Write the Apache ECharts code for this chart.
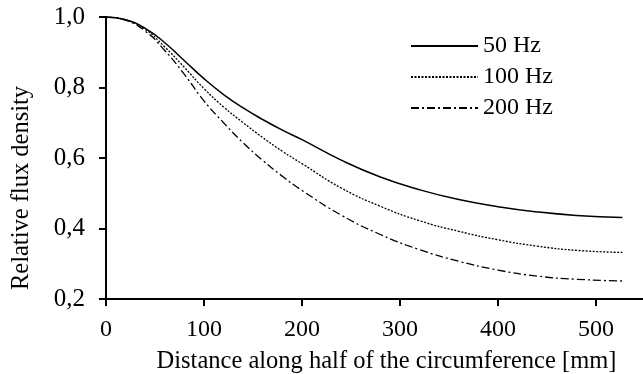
<!DOCTYPE html>
<html><head><meta charset="utf-8">
<script src="https://cdn.jsdelivr.net/npm/echarts@6/dist/echarts.min.js"></script>
<style>html,body{margin:0;padding:0;background:#fff}#c{width:643px;height:374px}</style>
</head><body><div id="c"></div>
<script>
const distance = [0, 20, 40, 60, 80, 100, 120, 140, 160, 180, 200, 240, 280, 320, 360, 400, 440, 480, 527];
const hz50  = [1.0, 0.992, 0.968, 0.927, 0.876, 0.825, 0.780, 0.742, 0.709, 0.679, 0.652, 0.594, 0.546, 0.510, 0.482, 0.462, 0.447, 0.437, 0.431];
const hz100 = [1.0, 0.992, 0.965, 0.915, 0.857, 0.797, 0.745, 0.700, 0.658, 0.619, 0.584, 0.515, 0.463, 0.422, 0.392, 0.368, 0.350, 0.338, 0.332];
const hz200 = [1.0, 0.991, 0.960, 0.905, 0.837, 0.762, 0.700, 0.643, 0.593, 0.548, 0.508, 0.438, 0.383, 0.340, 0.307, 0.282, 0.265, 0.256, 0.251];
const seriesNames = ['50 Hz', '100 Hz', '200 Hz'];
const yTicks = [0.2, 0.4, 0.6, 0.8, 1.0];

const font = '"Liberation Serif","Times New Roman",serif';
const pair = arr => distance.map((d, i) => [d, arr[i]]);
const dashes = ['solid', [2, 1.5], [8, 3, 2, 3]];
const data = [hz50, hz100, hz200];

const chart = echarts.init(document.getElementById('c'));
chart.setOption({
  animation: false,
  backgroundColor: '#fff',
  textStyle: { fontFamily: font, color: '#000' },
  grid: { left: 106, top: 17, right: 0, bottom: 75, containLabel: false, outerBoundsMode: 'none' },
  legend: {
    orient: 'vertical', left: 410, top: 34, padding: 0,
    itemWidth: 67, itemHeight: 10, itemGap: 7,
    itemStyle: { opacity: 0 },
    textStyle: { fontFamily: font, fontSize: 24, color: '#000' },
    data: seriesNames
  },
  xAxis: {
    type: 'value', min: 0, max: 548, interval: 100,
    name: 'Distance along half of the circumference [mm]',
    nameLocation: 'middle', nameGap: 50,
    nameTextStyle: { fontFamily: font, fontSize: 24.5, color: '#000', padding: [0, 0, 0, 24] },
    axisLine: { lineStyle: { color: '#000', width: 2 } },
    axisTick: { show: true, length: 7, lineStyle: { color: '#000', width: 2 } },
    axisLabel: { fontFamily: font, fontSize: 24, color: '#000', margin: 19, showMaxLabel: false },
    splitLine: { show: false }
  },
  yAxis: {
    type: 'value', min: yTicks[0], max: yTicks[yTicks.length - 1], interval: 0.2,
    name: 'Relative flux density',
    nameLocation: 'middle', nameGap: 72,
    nameTextStyle: { fontFamily: font, fontSize: 24.5, color: '#000', padding: [0, 60, 0, 0] },
    axisLine: { show: true, lineStyle: { color: '#000', width: 2 } },
    axisTick: { show: true, length: 7, lineStyle: { color: '#000', width: 2 } },
    axisLabel: { fontFamily: font, fontSize: 25, color: '#000', margin: 21,
      formatter: v => v.toFixed(1).replace('.', ',') },
    splitLine: { show: false }
  },
  series: seriesNames.map((n, i) => ({
    name: n, type: 'line', smooth: true, symbol: 'none',
    data: pair(data[i]),
    lineStyle: { color: '#000', width: i === 0 ? 1.5 : 1.3, type: dashes[i] },
    itemStyle: { color: '#000' }
  }))
});
</script></body></html>
